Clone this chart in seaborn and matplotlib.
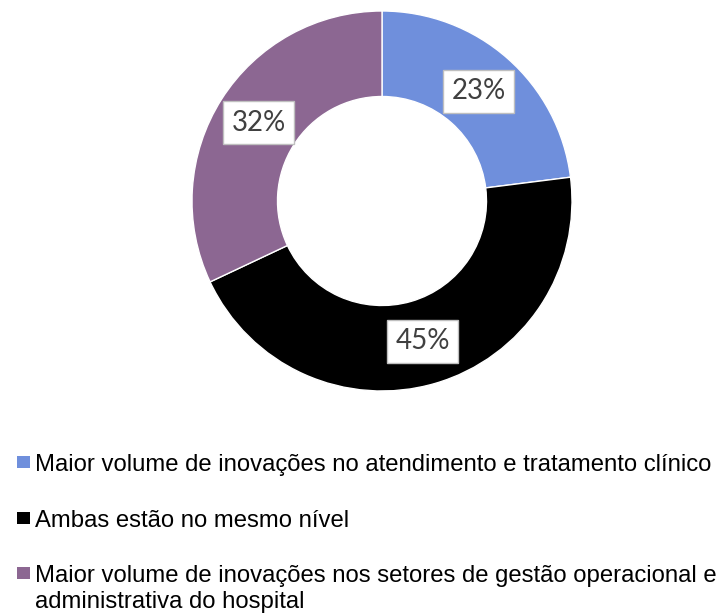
import matplotlib
matplotlib.use('Agg')
import matplotlib.pyplot as plt
import matplotlib.patches as mpatches
import seaborn as sns

sns.set_style('white')

categorias = ['Maior volume de inovações no atendimento e tratamento clínico',
              'Ambas estão no mesmo nível',
              'Maior volume de inovações nos setores de gestão operacional e\nadministrativa do hospital']
valores = [23, 45, 32]
cores = ['#6f8fdc', '#000000', '#8c6792']

fig = plt.figure(figsize=(7.22, 6.15), dpi=100)

# donut
ax = fig.add_axes([192 / 722, 224 / 615, 380 / 722, 380 / 615])
wedges, texts, autotexts = ax.pie(
    valores, colors=cores, startangle=90, counterclock=False,
    radius=1.0, autopct='%1.0f%%', pctdistance=0.77,
    wedgeprops=dict(width=0.45, edgecolor='white', linewidth=1),
    textprops=dict(fontsize=20, color='#404040', family=['Lato', 'DejaVu Sans']))
for t in autotexts:
    t.set_bbox(dict(boxstyle='square,pad=0.3', facecolor='white', edgecolor='#bfbfbf', linewidth=1))
ax.set_xlim(-1, 1)
ax.set_ylim(-1, 1)
ax.set_aspect('equal')
ax.axis('off')

# legenda feita a mão, alinhada à esquerda
baselines = [471, 527, 582]
for lab, cor, y in zip(categorias, cores, baselines):
    fig.patches.append(mpatches.Rectangle((17 / 722, 1 - (y - 3) / 615), 13 / 722, 12 / 615,
                                          facecolor=cor, edgecolor='none',
                                          transform=fig.transFigure, figure=fig))
    for i, linha in enumerate(lab.split('\n')):
        fig.text(35 / 722, 1 - (y + 26 * i) / 615, linha, fontsize=17.2, va='baseline', ha='left',
                 family=['Liberation Sans', 'DejaVu Sans'], color='black')

fig.savefig('out.png', dpi=100)
